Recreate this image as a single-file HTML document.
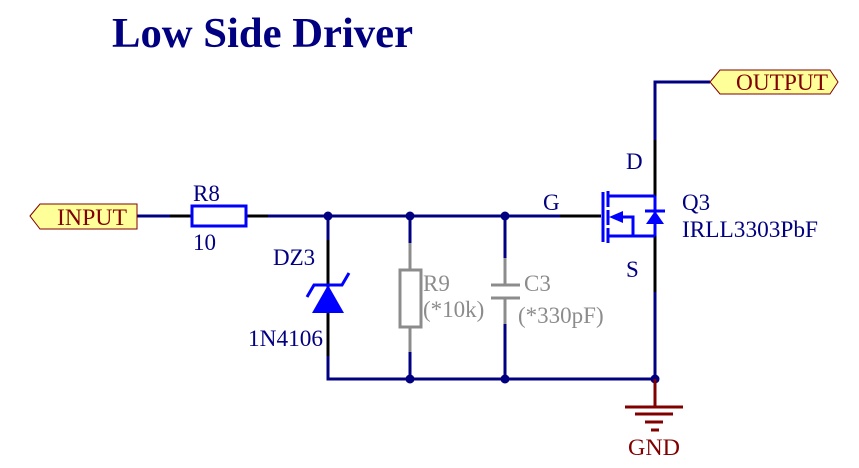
<!DOCTYPE html>
<html><head><meta charset="utf-8"><style>html,body{margin:0;padding:0;background:#fff}svg{display:block}</style></head>
<body>
<svg width="859" height="468" viewBox="0 0 859 468" xmlns="http://www.w3.org/2000/svg" font-family="Liberation Serif, serif">
<rect width="859" height="468" fill="#fff"/>
<text x="112" y="47" font-size="42" font-weight="bold" fill="#000080" textLength="301" lengthAdjust="spacingAndGlyphs">Low Side Driver</text>
<g stroke="#000080" stroke-width="3" fill="none">
<polyline points="137,216 170,216"/>
<polyline points="268,216 560,216"/>
<polyline points="328,216 328,240"/>
<polyline points="328,356 328,379 655,379"/>
<polyline points="410,216 410,243"/><polyline points="410,352 410,379"/>
<polyline points="505,216 505,258"/><polyline points="505,324 505,379"/>
<polyline points="655,140 655,82 710,82"/>
<polyline points="655,292 655,379"/>
</g>
<g stroke="#000" stroke-width="3" fill="none">
<line x1="170" y1="216" x2="192" y2="216"/><line x1="246" y1="216" x2="268" y2="216"/>
<line x1="328" y1="240" x2="328" y2="356"/>
<line x1="560" y1="216" x2="601" y2="216"/>
<line x1="655" y1="140" x2="655" y2="196"/><line x1="655" y1="236" x2="655" y2="292"/>
</g>
<g stroke="#8c8c8c" stroke-width="3" fill="none">
<line x1="410" y1="243" x2="410" y2="270"/><line x1="410" y1="327" x2="410" y2="352"/>
<rect x="400" y="270" width="21" height="57" fill="#fff"/>
<line x1="505" y1="258" x2="505" y2="285"/><line x1="505" y1="298" x2="505" y2="324"/>
<line x1="491" y1="285" x2="520" y2="285"/><line x1="491" y1="298" x2="520" y2="298"/>
</g>
<g fill="#000080">
<circle cx="328" cy="216" r="4.5"/><circle cx="410" cy="216" r="4.5"/><circle cx="505" cy="216" r="4.5"/>
<circle cx="410" cy="379" r="4.5"/><circle cx="505" cy="379" r="4.5"/><circle cx="655" cy="379" r="4.5"/>
</g>
<rect x="192" y="206" width="54" height="20" fill="#fff" stroke="#0000ff" stroke-width="3"/>
<polygon points="312,313 344,313 328,285" fill="#0000ff"/>
<polyline points="307,297 314,285 342,285 349,273" stroke="#0000ff" stroke-width="3" fill="none"/>
<g stroke="#0000ff" stroke-width="3" fill="none">
<line x1="603" y1="192" x2="603" y2="242"/>
<line x1="608" y1="191" x2="608" y2="207"/><line x1="608" y1="210" x2="608" y2="225"/><line x1="608" y1="228" x2="608" y2="243"/>
<line x1="608" y1="196" x2="655" y2="196"/>
<line x1="608" y1="236" x2="655" y2="236"/>
<polyline points="620,217 633,217 633,236"/>
<line x1="645" y1="211" x2="665" y2="211"/>
</g>
<polygon points="609,217 623,211 623,223" fill="#0000ff"/>
<polygon points="646,224 664,224 655,211" fill="#0000ff"/>
<line x1="655" y1="196" x2="655" y2="236" stroke="#0000ff" stroke-width="3"/>
<g stroke="#800000" stroke-width="3">
<line x1="655" y1="379" x2="655" y2="407"/>
<line x1="625" y1="407" x2="683" y2="407"/>
<line x1="635" y1="414" x2="673" y2="414"/>
<line x1="645" y1="422" x2="663" y2="422"/>
<line x1="651" y1="430" x2="659" y2="430"/>
</g>
<text x="628" y="455" font-size="23" fill="#800000" textLength="52" lengthAdjust="spacingAndGlyphs">GND</text>
<polygon points="30,216 40,204 137,204 137,216 137,229 40,229" fill="#ffff99" stroke="#800000" stroke-width="1"/>
<text x="57" y="225" font-size="23" fill="#800000" textLength="70" lengthAdjust="spacingAndGlyphs">INPUT</text>
<polygon points="710,82 720,70 830,70 838,82 830,94 720,94" fill="#ffff99" stroke="#800000" stroke-width="1"/>
<text x="736" y="90" font-size="23" fill="#800000" textLength="92" lengthAdjust="spacingAndGlyphs">OUTPUT</text>
<g font-size="23" fill="#000080">
<text x="193" y="201">R8</text>
<text x="193" y="250">10</text>
<text x="273" y="265">DZ3</text>
<text x="248" y="346" textLength="75" lengthAdjust="spacingAndGlyphs">1N4106</text>
<text x="543" y="210">G</text>
<text x="626" y="169">D</text>
<text x="626" y="277">S</text>
<text x="682" y="210">Q3</text>
<text x="682" y="237" textLength="136" lengthAdjust="spacingAndGlyphs">IRLL3303PbF</text>
</g>
<g font-size="23" fill="#8c8c8c">
<text x="423" y="291">R9</text>
<text x="423" y="317">(*10k)</text>
<text x="524" y="291">C3</text>
<text x="518" y="323">(*330pF)</text>
</g>
</svg>
</body></html>
